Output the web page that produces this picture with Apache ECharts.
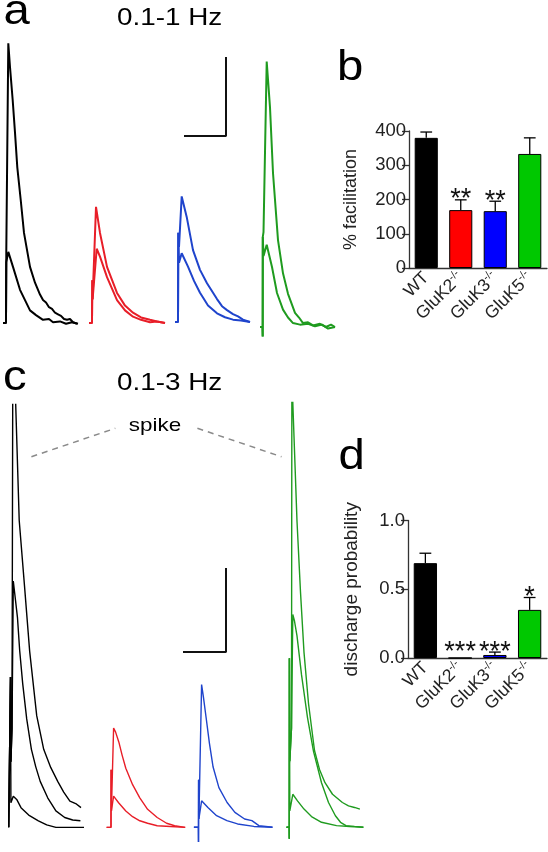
<!DOCTYPE html>
<html><head><meta charset="utf-8">
<script src="https://cdn.jsdelivr.net/npm/echarts@6/dist/echarts.min.js"></script>
<style>html,body{margin:0;padding:0;background:#fff}#c{width:548px;height:852px}</style>
</head><body><div id="c"></div>
<script>
// ---------------- data ----------------
const genotypes = ['WT', 'GluK2', 'GluK3', 'GluK5'];
const barColors = ['#000000', '#ff0000', '#0000ff', '#00c800'];
const traceColors = ['#000000', '#e81e28', '#1f44cc', '#1f9b1f'];

// panel b: % facilitation (mean, SEM)
const facilitationMean = [380, 169, 166, 333];
const facilitationSem = [17, 30, 29, 47];
const facilitationStars = ['', '**', '**', ''];
const facilitationTicks = [0, 100, 200, 300, 400];

// panel d: discharge probability (mean, SEM)
const dischargeMean = [0.69, 0, 0.022, 0.35];
const dischargeSem = [0.072, 0, 0.021, 0.09];
const dischargeStars = ['', '***', '***', '*'];
const dischargeTicks = [0, 0.5, 1.0];

// panel a traces (time ms, membrane potential mV rel. baseline): 1st and 2nd response
const a_WT_1 = [[0,0],[3,0],[3.3,7.7],[5.3,9.0],[10,7.1],[17,4.2],[22,2.9],[27,1.6],[33,1.0],[40,0.4],[46,0.5],[50,0.1],[57,0.2],[63,-0.1],[69,0.1],[75,-0.1]];
const a_WT_2 = [[0,0],[3,0],[3.3,9.2],[5.3,35.4],[7,32.4],[9.7,28.2],[12,24.1],[14.3,19.7],[17.7,15.6],[21,11.4],[27,7.1],[32,5.1],[37,3.6],[40,2.9],[43,2.6],[46,2.0],[49,1.8],[52,1.3],[55,1.1],[58,0.9],[61,0.5],[64,0.4],[67,0.5],[70,0.1],[74,-0.1]];
const a_K2_1 = [[0,0],[3,0],[3.3,5.4],[3.6,3],[7.7,9.4],[11,8.4],[18,5.8],[28,2.9],[36,1.6],[44,0.8],[52,0.4],[61,0.1],[68,0.2],[76,0]];
const a_K2_2 = [[0,0],[3,0],[3.3,5.4],[3.6,3],[7,14.7],[11,11.4],[18,7.1],[28,3.8],[36,2.2],[44,1.3],[52,0.7],[61,0.4],[68,0.2],[76,0]];
const a_K3_1 = [[0,0],[3,0],[3.3,11.3],[4,7.5],[6.7,8.7],[13,7.0],[19,5.2],[25,3.7],[33,2.1],[42,1.1],[50,0.6],[58,0.3],[66,0.2],[75,0]];
const a_K3_2 = [[0,0],[3,0],[3.3,11.3],[4,9.5],[6.7,15.9],[11.7,13.3],[18,9.1],[25,6.6],[32,4.9],[42,2.9],[47,2.0],[52,1.5],[58,1.0],[63,0.7],[68,0.3],[75,0]];
const a_K5_1 = [[0,0],[2.5,0],[2.7,-1.2],[2.8,11.4],[3.5,9],[6.7,10.4],[12,7.6],[17,4.3],[23,2.2],[28,1.2],[33,0.5],[40,0.3],[48,0.4],[55,0.1],[62,0.3],[68,-0.2],[75,0]];
const a_K5_2 = [[0,0],[2.5,0],[2.7,-1.2],[2.8,11.4],[3.5,12],[6.7,33.6],[10,27.8],[13,19.5],[18,11.0],[23,6.8],[28,4.2],[30,4.0],[35,1.8],[39,1.2],[43,0.5],[48,0.6],[53,0.2],[60,0.4],[66,0],[71,0.3],[75,0]];

// panel c traces (time ms, mV): 1st response, 2nd response, spiking response
const c_WT_1 = [[0,0],[1.7,0],[1.8,18.3],[2.2,3],[4.6,3.8],[8,3.4],[12.3,2.4],[20,1.5],[29.7,0.8],[38,0.3],[47.2,0],[60,0],[75.3,0]];
const c_WT_2 = [[0,0],[1.7,0],[1.8,18.3],[2.2,8],[3.3,12],[4.6,30],[6,28.5],[8.8,25.5],[11,21.5],[14,17.5],[18,13.2],[22.7,9.5],[27,7.4],[31.5,5.6],[39,3.6],[47.2,2.0],[56,1.2],[64,0.9],[71.7,0.8]];
const c_WT_3 = [[0,0],[1.7,0],[1.8,18.3],[2.2,8],[3.3,12],[4.5,80],[7,51.5],[10.5,37.4],[15.8,29.4],[21,21.4],[24.5,17.5],[28,13.6],[35,9.5],[42,7.3],[49,5.6],[55,4.3],[61.2,3.2],[67,2.9],[72.3,2.4]];
const c_K2_1 = [[0,0],[4.4,0],[4.5,7.0],[4.8,2],[7,3.8],[12,3.0],[19.2,2.0],[26,1.3],[33.2,0.8],[41,0.5],[50.6,0.2],[64,0.1],[78.6,0]];
const c_K2_2 = [[0,0],[4.4,0],[4.5,7.0],[4.8,2],[7,12.1],[9,11.6],[12.2,10.4],[15.5,8.8],[19.2,7.2],[26,5.2],[33.2,3.6],[41,2.2],[50.6,1.2],[60,0.5],[68,0.2],[78.6,0]];
const c_K3_1 = [[0,0],[4.5,0],[4.6,-1.8],[4.7,5.75],[5,1],[7.7,3.2],[14,2.4],[22.7,1.4],[33,0.8],[43.7,0.4],[60,0.1],[78.6,0]];
const c_K3_2 = [[0,0],[4.5,0],[4.6,-1.8],[4.7,5.75],[5,1],[7.7,17.3],[9.5,15.8],[12.2,13.3],[15.5,10.2],[19.2,7.3],[25,4.8],[33.2,3.0],[41,1.8],[50.7,1.0],[58,0.8],[65,0.2],[78.6,0]];
const c_K5_1 = [[0,0],[2.7,0],[2.8,-1.4],[2.9,20.5],[3.3,2],[6.3,4.0],[11,3.2],[17.5,2.2],[25,1.3],[35,0.6],[50,0.2],[63,0.1],[76.9,0]];
const c_K5_2 = [[0,0],[2.7,0],[2.8,-1.4],[2.9,20.5],[3.3,8],[5,12],[6.3,25.8],[8,25.0],[10.5,23.2],[15,18.5],[21,13.3],[27,9.2],[35,5.4],[42,3.0],[48.9,1.4],[54,0.6],[59.5,0.2],[68,0.1],[76.9,0]];
const c_K5_3 = [[0,0],[2.7,0],[2.8,-1.4],[2.9,20.5],[3.3,8],[5,12],[5.6,80],[6.3,51.5],[10.5,37.1],[14,28.5],[17.5,21.2],[22,15.0],[28,9.3],[33,7.0],[38.5,5.4],[46,4.0],[55.9,3.0],[62,2.6],[68,2.4],[73.4,2.2]];

// scale bars (ms, mV)
const scaleBarA = [[0, 0], [42, 0], [42, 10]];
const scaleBarC = [[0, 0], [43, 0], [43, 10]];

// ---------------- layout ----------------
const FONT = '"Liberation Sans", Arial, sans-serif';
const aLeft = [3, 89, 175, 260];
const aBaseY = [323, 323, 322, 327];
const aPxPerMv = 7.9, aMin = -3, aMax = 37;
const cLeft = [8.7, 106.6, 193.9, 286.5];
const cBaseY = [837, 837, 835, 835];
const cPxPerMv = 8.4, cMin = -3, cMax = 51.5;
const traceSpan = 85;

const grids = [];
const xAxes = [];
const yAxes = [];
const series = [];

function labelFmt(v) { return v === 'WT' ? '{n|WT}' : '{n|' + v + '}{s|-/-}'; }
const axisCol = '#333';

function barPanel(gridBox, means, sems, stars, ticks, name, nameGap, nameSize, fmt) {
  const gi = grids.length;
  grids.push(gridBox);
  xAxes.push({
    type: 'category', gridIndex: gi, data: genotypes,
    axisLine: { lineStyle: { color: axisCol, width: 1.3 } },
    axisTick: { alignWithLabel: true, length: 6, lineStyle: { color: axisCol, width: 1.3 } },
    axisLabel: { rotate: 45, margin: 7, color: '#222', formatter: labelFmt,
      rich: { n: { fontSize: 17.5, fontFamily: FONT, color: '#222', lineHeight: 20 },
              s: { fontSize: 11, fontFamily: FONT, color: '#222', verticalAlign: 'top', lineHeight: 20 } } }
  });
  yAxes.push({
    type: 'value', gridIndex: gi, min: ticks[0], max: ticks[ticks.length - 1],
    interval: ticks[1] - ticks[0],
    axisLine: { show: true, lineStyle: { color: axisCol, width: 1.3 } },
    axisTick: { show: true, length: 7, lineStyle: { color: axisCol, width: 1.3 } },
    axisLabel: { fontSize: 18.5, fontFamily: FONT, color: '#222', margin: 3, formatter: fmt },
    splitLine: { show: false },
    name: name, nameLocation: 'middle', nameGap: nameGap,
    nameTextStyle: { fontSize: nameSize, fontFamily: FONT, color: '#222' }
  });
  series.push({
    type: 'bar', xAxisIndex: gi, yAxisIndex: gi, barWidth: '67%',
    data: means.map((m, i) => ({ value: m, itemStyle: { color: barColors[i] } })),
    itemStyle: { borderColor: '#000', borderWidth: 1 }, silent: true
  });
  series.push({
    type: 'custom', xAxisIndex: gi, yAxisIndex: gi, z: 5, silent: true,
    data: means.map((m, i) => [i, m, sems[i]]),
    renderItem: function (params, api) {
      const i = api.value(0), m = api.value(1), s = api.value(2);
      const p0 = api.coord([i, m]);
      const p1 = api.coord([i, m + s]);
      const w = api.size([1, 0])[0] * 0.17;
      const ch = [];
      if (s > 0) {
        ch.push({ type: 'line', shape: { x1: p0[0], y1: p0[1], x2: p1[0], y2: p1[1] }, style: { stroke: '#000', lineWidth: 1.3 } });
        ch.push({ type: 'line', shape: { x1: p1[0] - w, y1: p1[1], x2: p1[0] + w, y2: p1[1] }, style: { stroke: '#000', lineWidth: 1.3 } });
      }
      if (stars[i]) {
        ch.push({ type: 'text', style: { x: p1[0], y: p1[1] - (s > 0 ? 0 : 5), text: stars[i], fill: '#111',
          font: '27px ' + FONT, textAlign: 'center', textVerticalAlign: 'middle' } });
      }
      return { type: 'group', children: ch };
    }
  });
}

barPanel({ left: 409, top: 131, width: 138, height: 137 }, facilitationMean, facilitationSem, facilitationStars,
  facilitationTicks, '% facilitation', 49, 18, v => String(v));
barPanel({ left: 408, top: 520.5, width: 139, height: 137.5 }, dischargeMean, dischargeSem, dischargeStars,
  dischargeTicks, 'discharge probability', 47, 19, v => v.toFixed(1));

function traceGrid(left, top, height, ymin, ymax) {
  const gi = grids.length;
  grids.push({ left: left, top: top, width: traceSpan, height: height });
  xAxes.push({ type: 'value', gridIndex: gi, min: 0, max: traceSpan, show: false });
  yAxes.push({ type: 'value', gridIndex: gi, min: ymin, max: ymax, show: false });
  return gi;
}
function addTrace(gi, data, color, width) {
  series.push({ type: 'line', xAxisIndex: gi, yAxisIndex: gi, data: data, showSymbol: false,
    symbol: 'none', silent: true, lineStyle: { color: color, width: width }, clip: true });
}

const panelA = [[a_WT_1, a_WT_2], [a_K2_1, a_K2_2], [a_K3_1, a_K3_2], [a_K5_1, a_K5_2]];
panelA.forEach((tr, i) => {
  const gi = traceGrid(aLeft[i], aBaseY[i] - aMax * aPxPerMv, (aMax - aMin) * aPxPerMv, aMin, aMax);
  tr.forEach(d => addTrace(gi, d, traceColors[i], 2));
});
const panelC = [[c_WT_1, c_WT_2, c_WT_3], [c_K2_1, c_K2_2], [c_K3_1, c_K3_2], [c_K5_1, c_K5_2, c_K5_3]];
panelC.forEach((tr, i) => {
  const gi = traceGrid(cLeft[i], cBaseY[i] - cMax * cPxPerMv, (cMax - cMin) * cPxPerMv, cMin, cMax);
  tr.forEach(d => addTrace(gi, d, traceColors[i], 1.4));
});

function scaleBar(box, data) {
  const gi = grids.length;
  grids.push(box);
  xAxes.push({ type: 'value', gridIndex: gi, min: 0, max: data[1][0], show: false });
  yAxes.push({ type: 'value', gridIndex: gi, min: 0, max: data[2][1], show: false });
  series.push({ type: 'line', xAxisIndex: gi, yAxisIndex: gi, data: data, showSymbol: false, symbol: 'none',
    clip: false, silent: true, lineStyle: { color: '#111', width: 2 } });
}
scaleBar({ left: 184, top: 57, width: 42, height: 79 }, scaleBarA);
scaleBar({ left: 183, top: 568, width: 43, height: 84 }, scaleBarC);

function txt(x, y, s, size, sx, align) {
  return { type: 'text', x: x, y: y, scaleX: sx, silent: true,
    style: { x: 0, y: 0, text: s, font: size + 'px ' + FONT, fill: '#000', textAlign: align || 'left', textVerticalAlign: 'middle' } };
}
const graphics = [
  txt(3.5, 12.1, 'a', 43, 1.1),
  txt(117, 18.7, '0.1-1 Hz', 24, 1.16),
  txt(337, 68.1, 'b', 43, 1.1),
  txt(3, 378.1, 'c', 43, 1.1),
  txt(117, 383.7, '0.1-3 Hz', 24, 1.16),
  txt(338.5, 457.1, 'd', 43, 1.1),
  txt(155, 425.4, 'spike', 19, 1.18, 'center'),
  { type: 'line', silent: true, shape: { x1: 31.4, y1: 456.7, x2: 115.3, y2: 428.3 }, style: { stroke: '#8a8a8a', lineWidth: 1.5, lineDash: [6, 5] } },
  { type: 'line', silent: true, shape: { x1: 197.4, y1: 428.3, x2: 281.5, y2: 456.7 }, style: { stroke: '#8a8a8a', lineWidth: 1.5, lineDash: [6, 5] } }
];

const chart = echarts.init(document.getElementById('c'), null, { renderer: 'canvas' });
chart.setOption({
  animation: false,
  backgroundColor: '#fff',
  textStyle: { fontFamily: FONT },
  grid: grids, xAxis: xAxes, yAxis: yAxes, series: series, graphic: graphics
});
</script></body></html>
